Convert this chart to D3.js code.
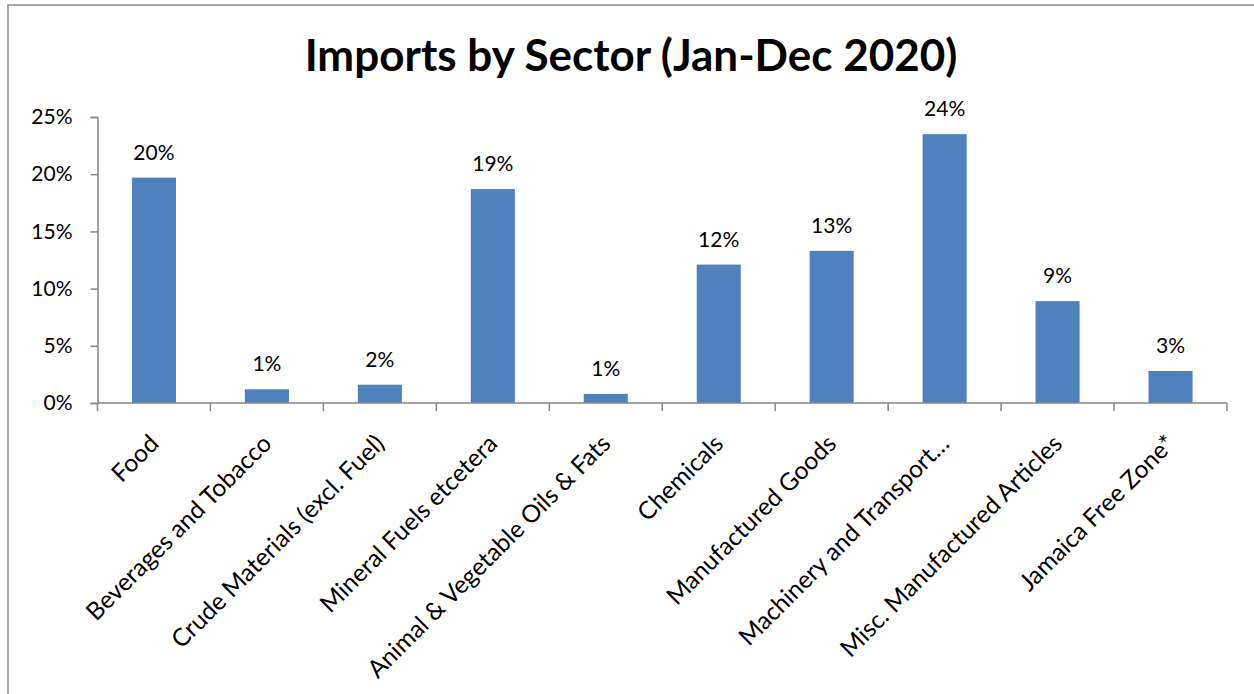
<!DOCTYPE html>
<html>
<head>
<meta charset="utf-8">
<script src="https://cdn.jsdelivr.net/npm/d3@7"></script>
<style>
  html, body { margin: 0; padding: 0; background: #fff; }
  svg { display: block; }
  text { font-family: Lato, "Open Sans", sans-serif; fill: #000; }
</style>
</head>
<body>
<svg id="chart" width="1254" height="694"></svg>
<script>
// Sector categories, shown along the x axis
const categories = [
  "Food",
  "Beverages and Tobacco",
  "Crude Materials (excl. Fuel)",
  "Mineral Fuels etcetera",
  "Animal & Vegetable Oils & Fats",
  "Chemicals",
  "Manufactured Goods",
  "Machinery and Transport…",
  "Misc. Manufactured Articles",
  "Jamaica Free Zone*"
];

// Share of total imports (%)
const shares = [19.7, 1.2, 1.6, 18.7, 0.8, 12.1, 13.3, 23.5, 8.9, 2.8];

// Y axis ticks (%)
const yTicks = [0, 5, 10, 15, 20, 25];

const title = "Imports by Sector (Jan-Dec 2020)";

const svg = d3.select("#chart");
const W = 1254, H = 694;

// chart frame (right and bottom edges run off the page)
svg.append("rect")
  .attr("x", 8).attr("y", 5)
  .attr("width", W + 20).attr("height", H + 20)
  .attr("fill", "#fff")
  .attr("stroke", "#8c8c8c")
  .attr("stroke-width", 1.5);

const plot = { left: 97.5, right: 1227, top: 117, bottom: 403 };

const x = d3.scaleBand()
  .domain(categories)
  .range([plot.left, plot.right])
  .paddingInner(0.61)
  .paddingOuter(0.305);

const y = d3.scaleLinear()
  .domain([0, 25])
  .range([plot.bottom, plot.top]);

// title
svg.append("text")
  .attr("x", 631).attr("y", 71)
  .attr("text-anchor", "middle")
  .attr("font-size", 44)
  .attr("font-weight", 700)
  .text(title);

// bars
svg.append("g").selectAll("rect")
  .data(categories)
  .join("rect")
  .attr("x", d => x(d))
  .attr("width", x.bandwidth())
  .attr("y", (d, i) => y(shares[i]))
  .attr("height", (d, i) => y(0) - y(shares[i]))
  .attr("fill", "#4F81BD");

// value labels
svg.append("g").selectAll("text")
  .data(categories)
  .join("text")
  .attr("x", d => x(d) + x.bandwidth() / 2)
  .attr("y", (d, i) => y(shares[i]) - 18)
  .attr("text-anchor", "middle")
  .attr("font-size", 21)
  .text((d, i) => Math.round(shares[i]) + "%");

// y axis
const yAxis = svg.append("g")
  .attr("transform", `translate(${plot.left},0)`)
  .call(d3.axisLeft(y).tickValues(yTicks).tickFormat(d => d + "%").tickSize(7).tickPadding(18));
yAxis.select(".domain").attr("stroke", "#868686").attr("stroke-width", 1.5);
yAxis.selectAll(".tick line").attr("stroke", "#868686").attr("stroke-width", 1.5);
yAxis.selectAll(".tick text")
  .attr("font-size", 21)
  .attr("font-family", "Lato, 'Open Sans', sans-serif")
  .attr("fill", "#000");

// x axis: ticks sit on band boundaries
const xb = svg.append("g");
xb.append("line")
  .attr("x1", plot.left).attr("x2", plot.right)
  .attr("y1", plot.bottom).attr("y2", plot.bottom)
  .attr("stroke", "#868686").attr("stroke-width", 1.5);
const step = x.step();
const bounds = d3.range(categories.length + 1).map(i => plot.left + i * step);
xb.selectAll("line.tk")
  .data(bounds)
  .join("line")
  .attr("class", "tk")
  .attr("x1", d => d).attr("x2", d => d)
  .attr("y1", plot.bottom).attr("y2", plot.bottom + 8)
  .attr("stroke", "#868686").attr("stroke-width", 1.5);

// rotated category labels
svg.append("g").selectAll("text")
  .data(categories)
  .join("text")
  .attr("transform", d => `translate(${x(d) + x.bandwidth() / 2 - 6},${plot.bottom + 30}) rotate(-45)`)
  .attr("text-anchor", "end")
  .attr("dy", "0.7em")
  .attr("font-size", 24.5)
  .text(d => d);
</script>
</body>
</html>
